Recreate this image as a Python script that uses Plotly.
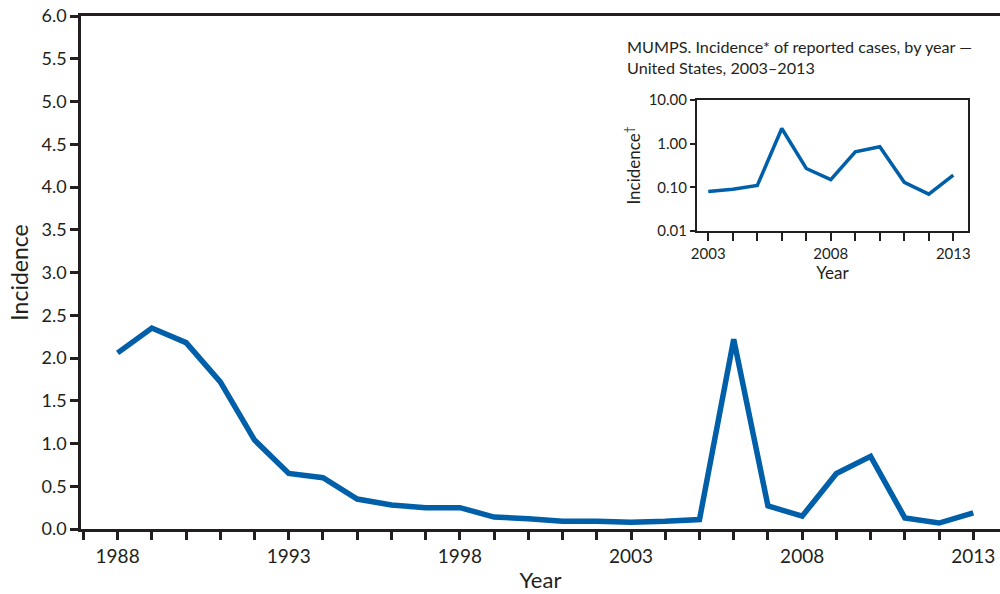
import plotly.graph_objects as go

years = list(range(1988, 2014))
incidence = [2.06, 2.35, 2.18, 1.72, 1.04, 0.65, 0.60, 0.35, 0.28, 0.25,
             0.25, 0.14, 0.12, 0.09, 0.09, 0.08, 0.09, 0.11, 2.22, 0.27,
             0.15, 0.65, 0.85, 0.13, 0.07, 0.19]

inset_years = list(range(2003, 2014))
inset_incidence = [0.08, 0.09, 0.11, 2.22, 0.27, 0.15, 0.65, 0.85, 0.13, 0.07, 0.19]

main_xticks = [1988, 1993, 1998, 2003, 2008, 2013]
inset_xticks = [2003, 2008, 2013]
main_yticks = [0, 0.5, 1, 1.5, 2, 2.5, 3, 3.5, 4, 4.5, 5, 5.5, 6]
inset_yticks = [0.01, 0.1, 1, 10]
inset_ylabels = ["0.01", "0.10", "1.00", "10.00"]

FONT = "Lato"
TXT = "#231f20"
LINE = "#005fa9"

fig = go.Figure()
fig.add_trace(go.Scatter(x=years, y=incidence, mode="lines",
                         line=dict(color=LINE, width=5.5), xaxis="x", yaxis="y",
                         showlegend=False, hoverinfo="skip"))
fig.add_trace(go.Scatter(x=inset_years, y=inset_incidence, mode="lines",
                         line=dict(color=LINE, width=3.5), xaxis="x2", yaxis="y2",
                         showlegend=False, hoverinfo="skip"))

W = 919.0  # plot-area width in px
fig.update_layout(
    width=1000, height=594,
    margin=dict(l=81, r=0, t=16, b=65, autoexpand=False),
    paper_bgcolor="white", plot_bgcolor="white",
    font=dict(family=FONT, color=TXT),
    xaxis=dict(
        range=[1986.93, 2013.78], domain=[0, 1],
        tickvals=main_xticks,
        ticktext=[str(y) for y in main_xticks],
        ticks="outside", ticklen=8, tickwidth=2.5, tickcolor=TXT,
        ticklabeloverflow="allow", automargin=False,
        minor=dict(ticks="outside", tick0=1988, dtick=1, ticklen=8, tickwidth=2.5,
                   tickcolor=TXT, showgrid=False),
        showline=True, linewidth=2.5, linecolor=TXT, mirror=True,
        showgrid=False, zeroline=False,
        tickfont=dict(size=19, family=FONT, color=TXT),
        title=dict(text="Year", font=dict(size=22, family=FONT, color=TXT), standoff=8),
    ),
    yaxis=dict(
        range=[0, 6], domain=[0, 1],
        tickvals=main_yticks,
        ticktext=[f"{v:.1f}" for v in main_yticks],
        ticks="outside", ticklen=8, tickwidth=2.5, tickcolor=TXT,
        ticklabeloverflow="allow", automargin=False,
        showline=True, linewidth=2.5, linecolor=TXT,
        showgrid=False, zeroline=False,
        tickfont=dict(size=18, family=FONT, color=TXT),
        title=dict(text="Incidence", font=dict(size=23, family=FONT, color=TXT), standoff=7),
    ),
    xaxis2=dict(
        anchor="y2", domain=[(697 - 81) / W, (968 - 81) / W],
        range=[2002.54, 2013.6],
        tickvals=inset_xticks,
        ticktext=[str(y) for y in inset_xticks],
        ticks="outside", ticklen=8, tickwidth=2, tickcolor=TXT,
        ticklabeloverflow="allow", automargin=False,
        minor=dict(ticks="outside", tick0=2003, dtick=1, ticklen=8, tickwidth=2,
                   tickcolor=TXT, showgrid=False),
        showline=True, linewidth=2, linecolor=TXT, mirror=True,
        showgrid=False, zeroline=False,
        tickfont=dict(size=15, family=FONT, color=TXT),
        title=dict(text="Year", font=dict(size=17, family=FONT, color=TXT), standoff=2),
    ),
    yaxis2=dict(
        anchor="x2", domain=[0.5809, 0.8363],
        type="log", range=[-2, 1],
        tickvals=inset_yticks, ticktext=inset_ylabels,
        ticks="outside", ticklen=5, tickwidth=2, tickcolor=TXT,
        ticklabeloverflow="allow", automargin=False,
        showline=True, linewidth=2, linecolor=TXT, mirror=True,
        showgrid=False, zeroline=False,
        tickfont=dict(size=15, family=FONT, color=TXT),
        title=dict(text="Incidence<sup>†</sup>", font=dict(size=17, family=FONT, color=TXT), standoff=4),
    ),
    annotations=[
        dict(text="MUMPS. Incidence* of reported cases, by year —<br>United States, 2003–2013",
             xref="paper", yref="paper", x=(625 - 81) / W, y=(529 - 35) / 513,
             xanchor="left", yanchor="top", align="left", showarrow=False,
             font=dict(size=16.2, family=FONT, color=TXT)),
    ],
)

fig.write_html(
    "out.html",
    config={"displayModeBar": False},
    post_script="document.body.style.margin='0';document.body.style.overflow='hidden';",
)
